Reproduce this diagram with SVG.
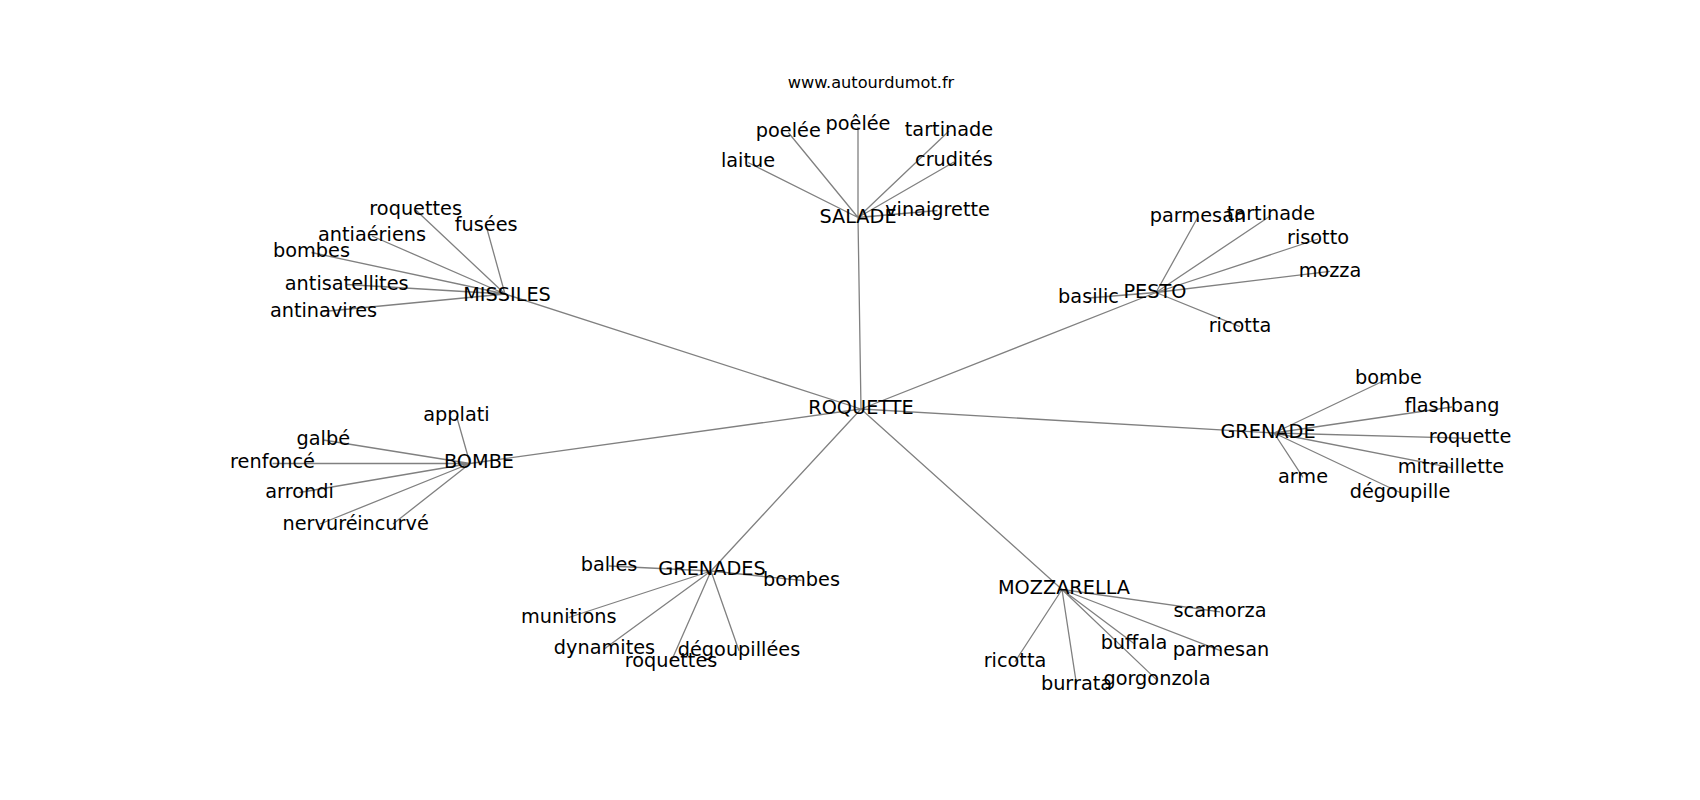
<svg xmlns="http://www.w3.org/2000/svg" width="1700" height="800" viewBox="0 0 1700 800">
<style>
.e{stroke:#808080;stroke-width:1.3;fill:none}
text{font-family:"DejaVu Sans","Liberation Sans",sans-serif;font-size:19.3px;fill:#000;text-anchor:middle}
.t{font-size:16.2px}
</style>
<rect width="1700" height="800" fill="#fff"/>
<g id="connectors">
<path class="e" d="M861,409L858,217.5M861,409L505,294M861,409L1156,292.5M861,409L1274,433M861,409L470,463.5M861,409L711,571M861,409L1062,589.5"/>
<path class="e" d="M858,217.5L858,127M858,217.5L788.3,132.5M858,217.5L748,162.5M858,217.5L949,131M858,217.5L954,162M858,217.5L937.5,210.5"/>
<path class="e" d="M505,294L415.7,210M505,294L486.2,226M505,294L372,236M505,294L311.5,252.5M505,294L346.7,284.5M505,294L323.5,311.5"/>
<path class="e" d="M1156,292.5L1088.5,298M1156,292.5L1198,217M1156,292.5L1271,215.5M1156,292.5L1318,239M1156,292.5L1330,271.4M1156,292.5L1240,326.7"/>
<path class="e" d="M1274,433L1388.5,378.5M1274,433L1452,407M1274,433L1470,438.3M1274,433L1451,467.6M1274,433L1303,477.4M1274,433L1400,492.5"/>
<path class="e" d="M470,463.5L456.5,416M470,463.5L323.3,440M470,463.5L272.5,463.5M470,463.5L299.5,492.5M470,463.5L320,524M470,463.5L393,524"/>
<path class="e" d="M711,571L609,566M711,571L801.5,580.4M711,571L568.7,617.5M711,571L604.5,648.7M711,571L671,661.7M711,571L739,650.8"/>
<path class="e" d="M1062,589.5L1220,611.8M1062,589.5L1134,643.5M1062,589.5L1221,650.8M1062,589.5L1015,661.7M1062,589.5L1076.5,684.4M1062,589.5L1157,680.1"/>
</g>
<text class="t" x="871" y="87.5">www.autourdumot.fr</text>
<g id="n-roquette"><text x="861" y="413.5">ROQUETTE</text></g>
<g id="n-salade"><text x="858" y="223">SALADE</text></g>
<g id="n-poelee2"><text x="858" y="130">poêlée</text></g>
<g id="n-poelee"><text x="788.3" y="137">poelée</text></g>
<g id="n-laitue"><text x="748" y="167.3">laitue</text></g>
<g id="n-tartinade1"><text x="949" y="136">tartinade</text></g>
<g id="n-crudites"><text x="954" y="166.2">crudités</text></g>
<g id="n-vinaigrette"><text x="937.5" y="215.8">vinaigrette</text></g>
<g id="n-missiles"><text x="507" y="300.7">MISSILES</text></g>
<g id="n-roquettes1"><text x="415.7" y="215">roquettes</text></g>
<g id="n-fusees"><text x="486.2" y="230.7">fusées</text></g>
<g id="n-antiaeriens"><text x="372" y="240.7">antiaériens</text></g>
<g id="n-bombes1"><text x="311.5" y="257.3">bombes</text></g>
<g id="n-antisatellites"><text x="346.7" y="290">antisatellites</text></g>
<g id="n-antinavires"><text x="323.5" y="316.5">antinavires</text></g>
<g id="n-pesto"><text x="1155" y="297.8">PESTO</text></g>
<g id="n-basilic"><text x="1088.5" y="303">basilic</text></g>
<g id="n-parmesan1"><text x="1198" y="221.7">parmesan</text></g>
<g id="n-tartinade2"><text x="1271" y="220">tartinade</text></g>
<g id="n-risotto"><text x="1318" y="243.8">risotto</text></g>
<g id="n-mozza"><text x="1330" y="277.4">mozza</text></g>
<g id="n-ricotta1"><text x="1240" y="331.7">ricotta</text></g>
<g id="n-grenade"><text x="1268" y="437.7">GRENADE</text></g>
<g id="n-bombe1"><text x="1388.5" y="384">bombe</text></g>
<g id="n-flashbang"><text x="1452" y="411.7">flashbang</text></g>
<g id="n-roquette2"><text x="1470" y="443.3">roquette</text></g>
<g id="n-mitraillette"><text x="1451" y="473">mitraillette</text></g>
<g id="n-arme"><text x="1303" y="483">arme</text></g>
<g id="n-degoupille"><text x="1400" y="497.5">dégoupille</text></g>
<g id="n-bombe"><text x="479" y="468.3">BOMBE</text></g>
<g id="n-applati"><text x="456.5" y="421">applati</text></g>
<g id="n-galbe"><text x="323.3" y="444.5">galbé</text></g>
<g id="n-renfonce"><text x="272.5" y="468.3">renfoncé</text></g>
<g id="n-arrondi"><text x="299.5" y="497.5">arrondi</text></g>
<g id="n-nervure"><text x="320" y="529.5">nervuré</text></g>
<g id="n-incurve"><text x="393" y="529.5">incurvé</text></g>
<g id="n-grenades"><text x="712" y="575">GRENADES</text></g>
<g id="n-balles"><text x="609" y="570.7">balles</text></g>
<g id="n-bombes2"><text x="801.5" y="585.8">bombes</text></g>
<g id="n-munitions"><text x="568.7" y="623">munitions</text></g>
<g id="n-dynamites"><text x="604.5" y="654">dynamites</text></g>
<g id="n-roquettes2"><text x="671" y="666.7">roquettes</text></g>
<g id="n-degoupillees"><text x="739" y="655.8">dégoupillées</text></g>
<g id="n-mozzarella"><text x="1064" y="594">MOZZARELLA</text></g>
<g id="n-scamorza"><text x="1220" y="616.8">scamorza</text></g>
<g id="n-buffala"><text x="1134" y="648.8">buffala</text></g>
<g id="n-parmesan2"><text x="1221" y="655.8">parmesan</text></g>
<g id="n-ricotta2"><text x="1015" y="666.7">ricotta</text></g>
<g id="n-burrata"><text x="1076.5" y="690">burrata</text></g>
<g id="n-gorgonzola"><text x="1157" y="685.1">gorgonzola</text></g>
</svg>
